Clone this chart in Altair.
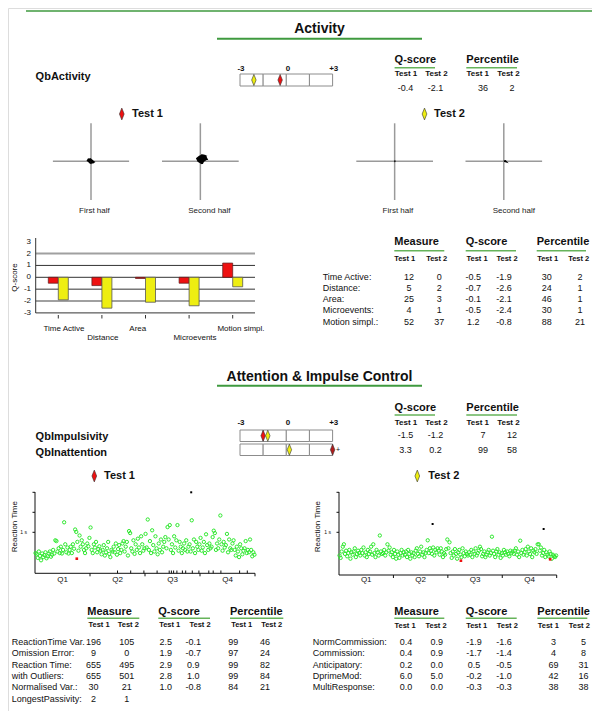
import altair as alt
import pandas as pd

FONT = "Liberation Sans"
OFF = 8  # page margin

# ---------------- data ----------------
QB_NAMES = ["QbActivity", "QbImpulsivity", "QbInattention"]
QB_Q1 = [-0.4, -1.5, 3.3]
QB_Q2 = [-2.1, -1.2, 0.2]
QB_P1 = [36, 7, 99]
QB_P2 = [2, 12, 58]

ACT_LABELS = ["Time Active:", "Distance:", "Area:", "Microevents:", "Motion simpl.:"]
ACT_CATS = ["Time Active", "Distance", "Area", "Microevents", "Motion simpl."]
ACT_M1 = [12, 5, 25, 4, 52]
ACT_M2 = [0, 2, 3, 1, 37]
ACT_Q1 = [-0.5, -0.7, -0.1, -0.5, 1.2]
ACT_Q2 = [-1.9, -2.6, -2.1, -2.4, -0.8]
ACT_P1 = [30, 24, 46, 30, 88]
ACT_P2 = [2, 1, 1, 1, 21]

ATL_LABELS = ["ReactionTime Var.", "Omission Error:", "Reaction Time:",
              "\u00a0\u00a0\u00a0with Outliers:", "Normalised Var.:", "LongestPassivity:"]
ATL_M1 = [196, 9, 655, 655, 30, 2]
ATL_M2 = [105, 0, 495, 501, 21, 1]
ATL_Q1 = [2.5, 1.9, 2.9, 2.8, 1.0, None]
ATL_Q2 = [-0.1, -0.7, 0.9, 1.0, -0.8, None]
ATL_P1 = [99, 97, 99, 99, 84, None]
ATL_P2 = [46, 24, 82, 84, 21, None]

ATR_LABELS = ["NormCommission:", "Commission:", "Anticipatory:", "DprimeMod:", "MultiResponse:"]
ATR_M1 = [0.4, 0.4, 0.2, 6.0, 0.0]
ATR_M2 = [0.9, 0.9, 0.0, 5.0, 0.0]
ATR_Q1 = [-1.9, -1.7, 0.5, -0.2, -0.3]
ATR_Q2 = [-1.6, -1.4, -0.5, -1.0, -0.3]
ATR_P1 = [3, 4, 69, 42, 38]
ATR_P2 = [5, 8, 31, 16, 38]

# movement paths (normalised units)
MOVE_T1_FIRST_X = [0.0, -0.03, -0.07, -0.09, -0.05, -0.02, 0.02, 0.05, 0.08, 0.04, 0.0, -0.04, -0.06, -0.02, 0.03, 0.01]
MOVE_T1_FIRST_Y = [0.0, 0.03, 0.05, 0.02, -0.01, 0.02, -0.02, -0.04, -0.02, 0.01, -0.05, -0.03, 0.04, 0.06, 0.02, -0.01]
MOVE_T1_SECOND_X = [0.0, 0.04, 0.1, 0.15, 0.12, 0.06, -0.02, -0.08, -0.05, 0.03, 0.09, 0.14, 0.08, 0.0, -0.06, 0.02, 0.07, 0.12, 0.05, -0.03, 0.0]
MOVE_T1_SECOND_Y = [0.0, 0.06, 0.1, 0.08, 0.14, 0.15, 0.12, 0.07, 0.01, -0.04, 0.02, 0.05, 0.11, 0.09, 0.04, 0.13, 0.0, 0.1, 0.07, 0.03, 0.05]
MOVE_T2_FIRST_X = [0.0, 0.02, -0.01, 0.01]
MOVE_T2_FIRST_Y = [0.0, 0.01, -0.01, 0.0]
MOVE_T2_SECOND_X = [0.0, 0.04, 0.06, 0.02]
MOVE_T2_SECOND_Y = [0.0, 0.01, -0.01, 0.0]

# reaction times (ms), one per trial
RT1 = [480, 450, 360, 520, 410, 300, 470, 380, 430, 500, 350, 400, 470, 520, 390, 440, 560, 470, 800, 780,
       520, 600, 480, 640, 470, 560, 1250, 700, 500, 620, 470, 560, 640, 480, 700, 590, 1070, 1010, 760, 540,
       920, 640, 800, 700, 560, 480, 600, 720, 650, 860, 1120, 560, 480, 700, 620, 760, 500, 580, 650, 540,
       450, 560, 680, 420, 500, 600, 760, 460, 380, 560, 520, 640, 500, 720, 440, 580, 680, 480, 560, 720,
       780, 520, 640, 760, 420, 1030, 980, 600, 520, 800, 460, 700, 560, 840, 620, 480, 900, 700, 540, 600,
       960, 620, 1320, 560, 780, 480, 1050, 680, 520, 900, 600, 450, 720, 560, 820, 500, 640, 760, 880, 600,
       1130, 820, 1180, 560, 700, 480, 900, 620, 800, 1180, 540, 760, 640, 480, 600, 720, 560, 800, 520, 640,
       700, 520, 1300, 600, 820, 480, 760, 640, 560, 700, 860, 540, 620, 760, 480, 950, 680, 560, 720, 600,
       640, 880, 1040, 980, 560, 720, 600, 820, 1420, 700, 540, 760, 620, 680, 960, 500, 820, 600, 560, 720,
       800, 560, 420, 640, 520, 380, 700, 600, 450, 540, 600, 780, 480, 560, 500, 820, 560, 400, 500, 440]
RT2 = [420, 360, 520, 640, 700, 460, 540, 400, 480, 560, 340, 500, 440, 520, 600, 380, 460, 540, 480, 420,
       560, 480, 620, 420, 500, 380, 560, 460, 520, 640, 440, 700, 480, 380, 560, 500, 420, 920, 520, 460,
       480, 560, 420, 500, 700, 540, 620, 440, 500, 380, 560, 460, 340, 520, 440, 360, 480, 560, 420, 500,
       440, 520, 380, 560, 460, 340, 500, 420, 480, 380, 540, 600, 460, 400, 520, 640, 440, 500, 380, 480,
       560, 800, 480, 600, 540, 460, 620, 420, 560, 500, 600, 540, 440, 600, 520, 380, 480, 440, 580, 820,
       600, 750, 480, 360, 520, 420, 580, 460, 340, 500, 560, 440, 380, 600, 480, 400, 520, 460, 420, 500,
       440, 560, 380, 520, 460, 600, 420, 480, 540, 640, 580, 400, 460, 520, 380, 440, 500, 560, 420, 480,
       890, 540, 460, 380, 520, 580, 440, 500, 360, 480, 420, 560, 500, 440, 520, 460, 400, 540, 480, 520,
       460, 540, 600, 440, 520, 380, 790, 480, 560, 440, 500, 580, 420, 640, 520, 460, 600, 380, 540, 500,
       580, 460, 700, 700, 540, 620, 420, 480, 560, 380, 500, 440, 400, 520, 460, 340, 440, 400, 380, 420]
RT1_RED_TRIAL = [38]
RT1_RED_MS = [340]
RT1_OUT_TRIAL = [142]
RT1_OUT_MS = [2000]
RT1_ERR_TRIAL = [75, 87, 99, 111, 122, 124, 126, 129, 134, 137, 143, 149, 158, 162, 169, 186, 193]
RT2_RED_TRIAL = [112, 194]
RT2_RED_MS = [290, 325]
RT2_OUT_TRIAL = [86, 188]
RT2_OUT_MS = [1207, 1083]
QUARTERS = ["Q1", "Q2", "Q3", "Q4"]

# ---------------- styles ----------------
RED = "#ee1111"
RED_DARK = "#b01c1c"
YEL = "#eeee11"
GREEN = "#3f9a3f"
GREEN_L = "#66b35a"
PT_GREEN = "#2ee82e"
DIAMOND = "M0,-1L0.4,0L0,1L-0.4,0Z"
ONE = pd.DataFrame({"k": [0]})


def P(v):
    return v - OFF


def lin(d0, d1, r0, r1):
    return alt.Scale(domain=[d0, d1], range=[P(r0), P(r1)], zero=False, nice=False)


def txt(items, size=9, bold=False, align="left", color="#111", angle=0):
    df = pd.DataFrame({"x": [P(i[0]) for i in items], "y": [P(i[1]) for i in items],
                       "t": [str(i[2]) for i in items]})
    return alt.Chart(df).mark_text(font=FONT, fontSize=size, fontWeight="bold" if bold else "normal",
                                   align=align, baseline="middle", color=color, angle=angle).encode(
        x=alt.X("x:Q", scale=None), y=alt.Y("y:Q", scale=None), text="t:N")


def hrule(x1, x2, y, color, w):
    return alt.Chart(ONE).mark_rule(color=color, strokeWidth=w).encode(
        x=alt.value(P(x1)), x2=alt.value(P(x2)), y=alt.value(P(y)))


def vrule(x, y1, y2, color, w):
    return alt.Chart(ONE).mark_rule(color=color, strokeWidth=w).encode(
        x=alt.value(P(x)), y=alt.value(P(y1)), y2=alt.value(P(y2)))


def diamond(x, y, fill, size=140):
    return alt.Chart(ONE).mark_point(shape=DIAMOND, filled=True, size=size, fill=fill, stroke="#333",
                                     strokeWidth=0.6, opacity=1).encode(x=alt.value(P(x)), y=alt.value(P(y)))


def fmt(v, d):
    if v is None:
        return None
    return f"{v:.{d}f}"


def table(cols, centers, y0, pitch, labels=None, label_x=None, size=9):
    recs = []
    for ci, col in enumerate(cols):
        for ri, v in enumerate(col):
            if v is not None:
                recs.append({"r": ri, "c": ci, "t": v})
    df = pd.DataFrame(recs)
    n = max(len(c) for c in cols)
    last = max(n - 1, 1)
    xs = alt.Scale(domain=list(range(len(centers))), range=[P(c) for c in centers], zero=False, nice=False)
    ys = lin(0, last, y0, y0 + last * pitch)
    out = [alt.Chart(df).mark_text(font=FONT, fontSize=size, align="center", baseline="middle",
                                   color="#111").encode(
        x=alt.X("c:Q", scale=xs, axis=None), y=alt.Y("r:Q", scale=ys, axis=None), text="t:N")]
    if labels:
        ldf = pd.DataFrame({"r": list(range(len(labels))), "t": labels})
        out.append(alt.Chart(ldf).mark_text(font=FONT, fontSize=size, align="left", baseline="middle",
                                            color="#111").encode(
            x=alt.value(P(label_x)), y=alt.Y("r:Q", scale=ys, axis=None), text="t:N"))
    return out


layers = []

# ---------- section lines & titles ----------
layers.append(hrule(26, 600, 11, GREEN, 1.5))
layers.append(txt([(319.5, 29.3, "Activity"), (319.5, 377.3, "Attention & Impulse Control")], size=14, bold=True, align="center"))
layers.append(hrule(217, 422, 38.7, GREEN, 2))
layers.append(hrule(217, 422, 385.7, GREEN, 2))
layers.append(txt([(35.6, 76.7, QB_NAMES[0]), (35.6, 437.3, QB_NAMES[1]), (35.6, 452.7, QB_NAMES[2])], size=11, bold=True))

# ---------- headers ----------
hdr = [(394.6, 60, "Q-score"), (466.3, 60, "Percentile"),
       (394.6, 407.7, "Q-score"), (466.3, 407.7, "Percentile"),
       (394.3, 242.3, "Measure"), (465.7, 242.3, "Q-score"), (536.7, 242.3, "Percentile"),
       (87.3, 611.7, "Measure"), (158.3, 611.7, "Q-score"), (230, 611.7, "Percentile"),
       (394.3, 611.7, "Measure"), (465.7, 611.7, "Q-score"), (537.3, 611.7, "Percentile")]
layers.append(txt(hdr, size=11, bold=True))
for (x1, x2, y) in [(394.6, 435, 67.7), (466.3, 517, 67.7), (394.6, 435, 415), (466.3, 517, 415),
                    (394.3, 444.3, 250.7), (465.7, 516, 250.7), (536.7, 586, 250.7),
                    (87.3, 139.3, 618.3), (158.3, 210, 618.3), (230, 283.3, 618.3),
                    (394.3, 444.3, 618.3), (465.7, 516.7, 618.3), (537.3, 587.3, 618.3)]:
    layers.append(hrule(x1, x2, y, GREEN_L, 1.5))

sub = []
for y in (74, 422.7):
    for x, t in zip([406, 436.4, 477.8, 508.4], ["Test 1", "Test 2"] * 2):
        sub.append((x, y, t))
layers.append(txt(sub, size=8, bold=True, align="center"))
sub2 = []
for xs, y in [([404.7, 436.7, 477, 507, 547.7, 578.7], 258.5),
              ([99, 128.3, 169.7, 200, 241.7, 271.7], 625),
              ([405, 436, 476.7, 507.3, 548.3, 579.3], 625.5)]:
    for x, t in zip(xs, ["Test 1", "Test 2"] * 3):
        sub2.append((x, y, t))
layers.append(txt(sub2, size=7.5, bold=True, align="center"))

# ---------- mini Q-score tables ----------
MINI_X = [405.4, 435.6, 483, 512]
layers += table([[fmt(QB_Q1[0], 1)], [fmt(QB_Q2[0], 1)], [str(QB_P1[0])], [str(QB_P2[0])]], MINI_X, 87.7, 12)
layers += table([[fmt(v, 1) for v in QB_Q1[1:]], [fmt(v, 1) for v in QB_Q2[1:]],
                 [str(v) for v in QB_P1[1:]], [str(v) for v in QB_P2[1:]]], MINI_X, 435, 15)

# ---------- gauges ----------
GX = lin(-3, 3, 240, 332.6)
gl = []
for y in (69, 422.7):
    gl += [(241, y, "-3"), (288, y, "0"), (333.7, y, "+3")]
layers.append(txt(gl, size=8, bold=True, align="center"))


def gauge(top, bot, s1, s2):
    cells = pd.DataFrame({"lo": [-3, -1.5, 0, 1.5], "hi": [-1.5, 0, 1.5, 3]})
    box = alt.Chart(cells).mark_rect(fill="white", stroke="#8c8c8c", strokeWidth=1).encode(
        x=alt.X("lo:Q", scale=GX, axis=None), x2="hi:Q", y=alt.value(P(top)), y2=alt.value(P(bot)))
    m = pd.DataFrame({"s": [max(-3, min(3, s1)), max(-3, min(3, s2))],
                      "f": [RED if abs(s1) <= 3 else RED_DARK, YEL if abs(s2) <= 3 else "#b0b000"],
                      "o": [0, 1]})
    mk = alt.Chart(m).mark_point(shape=DIAMOND, filled=True, size=125, stroke="#333", strokeWidth=0.6,
                                 opacity=1).encode(
        x=alt.X("s:Q", scale=GX, axis=None), y=alt.value(P((top + bot) / 2)),
        fill=alt.Fill("f:N", scale=None), order="o:Q")
    return [box, mk]


layers += gauge(74, 86, QB_Q1[0], QB_Q2[0])
layers += gauge(430, 441.5, QB_Q1[1], QB_Q2[1])
layers += gauge(444, 455.5, QB_Q1[2], QB_Q2[2])
layers.append(txt([(336, 449.7, "+")], size=7, align="left"))

# ---------- test headers ----------
layers.append(diamond(121.8, 114, RED))
layers.append(diamond(424.5, 114, YEL))
layers.append(diamond(94.3, 476, RED))
layers.append(diamond(417.3, 476, YEL))
layers.append(txt([(132, 114, "Test 1"), (434, 114, "Test 2"), (104, 476, "Test 1"), (428.3, 476, "Test 2")], size=11, bold=True))

# ---------- movement crosses ----------
CROSSES = [(52.9, 129.1), (162, 238.7), (356.3, 433), (465.5, 542.1)]
PATHS = [(MOVE_T1_FIRST_X, MOVE_T1_FIRST_Y, 1.6), (MOVE_T1_SECOND_X, MOVE_T1_SECOND_Y, 2.2),
         (MOVE_T2_FIRST_X, MOVE_T2_FIRST_Y, 1.4), (MOVE_T2_SECOND_X, MOVE_T2_SECOND_Y, 1.6)]
for (x1, x2), (px_, py_, w) in zip(CROSSES, PATHS):
    cx = (x1 + x2) / 2
    layers.append(hrule(x1, x2, 161.3, "#9a9a9a", 1.5))
    layers.append(vrule(cx, 123.3, 200, "#9a9a9a", 1.5))
    df = pd.DataFrame({"x": px_, "y": py_, "i": list(range(len(px_)))})
    layers.append(alt.Chart(df).mark_line(color="black", strokeWidth=w).encode(
        x=alt.X("x:Q", scale=lin(-1, 1, x1, x2), axis=None),
        y=alt.Y("y:Q", scale=lin(-1, 1, 200, 122.6), axis=None), order="i:Q"))
layers.append(txt([(94.4, 211, "First half"), (209.4, 211, "Second half"),
                   (397.9, 211, "First half"), (513.8, 211, "Second half")], size=8, align="center", color="#222"))

# ---------- activity bar chart ----------
YB = lin(-3, 3, 312.9, 241.7)
bar_df = pd.DataFrame({"cat": ACT_CATS, "q1": ACT_Q1, "q2": ACT_Q2})


def band(shift):
    return alt.Scale(type="band", domain=ACT_CATS, range=[P(36.5 + shift), P(254.5 + shift)],
                     paddingInner=0, paddingOuter=0)


layers.append(alt.Chart(pd.DataFrame({"v": [2, -2]})).mark_rule(color="#a0a0a0", strokeWidth=2).encode(
    y=alt.Y("v:Q", scale=YB, axis=None), x=alt.value(P(35.7)), x2=alt.value(P(255))))
layers.append(alt.Chart(pd.DataFrame({"v": [1, 0, -1, -3]})).mark_rule(color="#333", strokeWidth=1).encode(
    y=alt.Y("v:Q", scale=YB, axis=None), x=alt.value(P(35.7)), x2=alt.value(P(255))))
layers.append(alt.Chart(bar_df).mark_bar(width=10, color=RED, stroke="#5a1a1a", strokeWidth=0.7).encode(
    x=alt.X("cat:N", scale=band(-5), axis=None), y=alt.Y("q1:Q", scale=YB, axis=None), y2=alt.datum(0)))
layers.append(alt.Chart(bar_df).mark_bar(width=10, color=YEL, stroke="#555", strokeWidth=0.8).encode(
    x=alt.X("cat:N", scale=band(5), axis=None), y=alt.Y("q2:Q", scale=YB, axis=None), y2=alt.datum(0)))
layers.append(vrule(35.7, 238, 313, "#333", 1))
tick_df = pd.DataFrame({"v": [3, 2, 1, 0, -1, -2, -3]})
tick_df["t"] = tick_df["v"].astype(str)
layers.append(alt.Chart(tick_df).mark_text(font=FONT, fontSize=8, align="right", baseline="middle", color="#111").encode(
    y=alt.Y("v:Q", scale=YB, axis=None), x=alt.value(P(31)), text="t:N"))
layers.append(alt.Chart(bar_df).mark_rule(color="#333", strokeWidth=1).encode(
    x=alt.X("cat:N", scale=alt.Scale(type="point", domain=ACT_CATS, range=[P(58.3), P(232.7)], padding=0), axis=None),
    y=alt.value(P(315)), y2=alt.value(P(318.5))))
CAT_POS = [(64, 329), (102.8, 338.3), (137.8, 329), (195, 338.3), (241, 329)]
layers.append(txt([(p[0], p[1], c) for p, c in zip(CAT_POS, ACT_CATS)], size=8, align="center"))
layers.append(txt([(15, 277.5, "Q-score")], size=8, align="center", angle=270))

# ---------- tables ----------
layers += table([[str(v) for v in ACT_M1], [str(v) for v in ACT_M2], [fmt(v, 1) for v in ACT_Q1],
                 [fmt(v, 1) for v in ACT_Q2], [str(v) for v in ACT_P1], [str(v) for v in ACT_P2]],
                [409, 439.3, 473.3, 504, 546.7, 580], 276.5, 11.3, ACT_LABELS, 322.7)
layers += table([[str(v) for v in ATL_M1], [str(v) for v in ATL_M2], [fmt(v, 1) for v in ATL_Q1],
                 [fmt(v, 1) for v in ATL_Q2], [None if v is None else str(v) for v in ATL_P1],
                 [None if v is None else str(v) for v in ATL_P2]],
                [93.5, 126.7, 165.7, 193.3, 233.3, 265], 642, 11.3, ATL_LABELS, 11.7)
layers += table([[fmt(v, 1) for v in ATR_M1], [fmt(v, 1) for v in ATR_M2], [fmt(v, 1) for v in ATR_Q1],
                 [fmt(v, 1) for v in ATR_Q2], [str(v) for v in ATR_P1], [str(v) for v in ATR_P2]],
                [406, 436.7, 474, 504, 553.5, 583.5], 642, 11.3, ATR_LABELS, 312.7)


# ---------- reaction time scatter plots ----------
def scatter(rt, red_t, red_ms, out_t, out_ms, x0, x1, axis_y, err_t=None):
    SX = lin(0, len(rt), x0, x1)
    SY = lin(0, 2000, 572.3, 492.3)
    L = []
    L.append(vrule(x0, 492, axis_y, "#111", 1))
    L.append(hrule(x0, x1, axis_y, "#111", 1))
    yt = pd.DataFrame({"v": [1000, 1500, 2000]})
    L.append(alt.Chart(yt).mark_rule(color="#111", strokeWidth=1).encode(
        y=alt.Y("v:Q", scale=SY, axis=None), x=alt.value(P(x0 - 2.5)), x2=alt.value(P(x0))))
    qt = pd.DataFrame({"v": [len(rt) * k / 4 for k in (1, 2, 3, 4)]})
    L.append(alt.Chart(qt).mark_rule(color="#111", strokeWidth=1).encode(
        x=alt.X("v:Q", scale=SX, axis=None), y=alt.value(P(axis_y)), y2=alt.value(P(axis_y + 3))))
    ql = pd.DataFrame({"v": [len(rt) * (k + 0.5) / 4 for k in range(4)], "t": QUARTERS})
    L.append(alt.Chart(ql).mark_text(font=FONT, fontSize=8, align="center", baseline="middle", color="#111").encode(
        x=alt.X("v:Q", scale=SX, axis=None), y=alt.value(P(580)), text="t:N"))
    if err_t:
        L.append(alt.Chart(pd.DataFrame({"t": err_t})).mark_rule(color="#111", strokeWidth=1).encode(
            x=alt.X("t:Q", scale=SX, axis=None), y=alt.value(P(axis_y - 2.8)), y2=alt.value(P(axis_y))))
    g = pd.DataFrame({"t": [i + 0.5 for i in range(len(rt))], "ms": rt})
    L.append(alt.Chart(g).mark_point(shape="circle", filled=False, size=11, strokeWidth=1, color=PT_GREEN, opacity=1).encode(
        x=alt.X("t:Q", scale=SX, axis=None), y=alt.Y("ms:Q", scale=SY, axis=None)))
    r = pd.DataFrame({"t": red_t, "ms": red_ms})
    L.append(alt.Chart(r).mark_square(size=7, color="#ee1111", opacity=1).encode(
        x=alt.X("t:Q", scale=SX, axis=None), y=alt.Y("ms:Q", scale=SY, axis=None)))
    o = pd.DataFrame({"t": out_t, "ms": out_ms})
    L.append(alt.Chart(o).mark_square(size=4, color="#000", opacity=1).encode(
        x=alt.X("t:Q", scale=SX, axis=None), y=alt.Y("ms:Q", scale=SY, axis=None)))
    return L


layers += scatter(RT1, RT1_RED_TRIAL, RT1_RED_MS, RT1_OUT_TRIAL, RT1_OUT_MS, 35, 255, 573.3, RT1_ERR_TRIAL)
layers += scatter(RT2, RT2_RED_TRIAL, RT2_RED_MS, RT2_OUT_TRIAL, RT2_OUT_MS, 339, 556.7, 575)
layers.append(txt([(15, 526.7, "Reaction Time"), (318.3, 526.7, "Reaction Time")], size=8, align="center", angle=270))
layers.append(txt([(27, 532.3, "1 s"), (331, 532.3, "1 s")], size=5, align="right"))

chart = alt.layer(*layers).resolve_scale(x="independent", y="independent").properties(
    width=584, height=703, padding=0, autosize="none"
).configure_view(strokeWidth=0).configure(background="white")

chart.save("out.html", embed_options={"renderer": "svg", "actions": False})
